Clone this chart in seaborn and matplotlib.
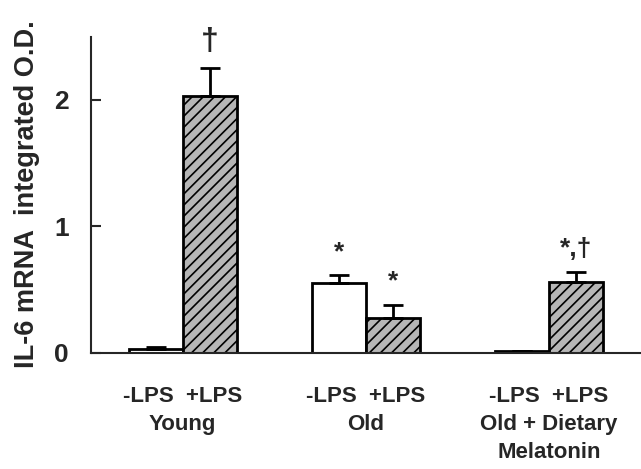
import numpy as np
import pandas as pd
import seaborn as sns
import matplotlib.pyplot as plt

# valores
groups = ['-LPS  +LPS\nYoung', '-LPS  +LPS\nOld', '-LPS  +LPS\nOld + Dietary\nMelatonin']
treatments = ['-LPS', '+LPS']
minus_lps = [0.03, 0.55, 0.01]
plus_lps = [2.03, 0.27, 0.56]
minus_err = [0.01, 0.06, 0.005]
plus_err = [0.22, 0.11, 0.08]
minus_marks = ['', '*', '']
plus_marks = ['\u2020', '*', '*,\u2020']

df = pd.DataFrame({
    'group': groups * 2,
    'lps': [treatments[0]] * 3 + [treatments[1]] * 3,
    'value': minus_lps + plus_lps,
})

sns.set_style('white')
plt.rcParams['font.family'] = ['Liberation Sans', 'DejaVu Sans']
plt.rcParams['font.weight'] = 'bold'
plt.rcParams['hatch.color'] = '#989898'
plt.rcParams['hatch.linewidth'] = 1.2

fig = plt.figure(figsize=(6.41, 4.69), dpi=100)
ax = fig.add_axes([0.142, 0.2484, 0.857, 0.6733])

sns.barplot(data=df, x='group', y='value', hue='lps', hue_order=treatments,
            palette={'-LPS': 'white', '+LPS': '#b6b6b6'}, width=0.59,
            edgecolor='black', linewidth=2.0, errorbar=None, legend=False, ax=ax)

# barras com hachura no +LPS
bars = ax.patches
errs = minus_err + plus_err
marks = minus_marks + plus_marks
for i, p in enumerate(bars):
    if i >= 3:
        p.set_hatch('///')
        if hasattr(p, 'set_hatchcolor'):
            p.set_hatchcolor('#989898')
    x = p.get_x() + p.get_width() / 2
    h = p.get_height()
    ax.errorbar(x, h, yerr=[[0], [errs[i]]], fmt='none', ecolor='black',
                elinewidth=2.0, capsize=7, capthick=2.0, zorder=1)
    if marks[i]:
        fs = 23 if marks[i] == '\u2020' else 19
        ax.annotate(marks[i], (x, h + errs[i]), xytext=(0, 8), textcoords='offset points',
                    ha='center', va='bottom', fontsize=fs, fontweight='bold',
                    annotation_clip=False)

ax.set_xlim(-0.5, 2.5)
ax.set_ylim(0, 2.5)
ax.set_yticks([0, 1, 2])
ax.set_yticklabels(['0', '1', '2'], fontsize=19, fontweight='bold')
ax.tick_params(axis='y', direction='in', length=7, width=1.5, pad=16, left=True)
ax.tick_params(axis='x', length=0, pad=24)
for lab in ax.get_xticklabels():
    lab.set_fontsize(16)
    lab.set_fontweight('bold')
    lab.set_linespacing(1.45)
    lab.set_va('top')

ax.set_xlabel('')
ax.set_ylabel('IL-6 mRNA  integrated O.D.', fontsize=19.5, fontweight='bold', labelpad=10)
sns.despine(ax=ax)
ax.spines['left'].set_linewidth(1.5)
ax.spines['bottom'].set_linewidth(1.5)

plt.savefig('out.png', dpi=100)
